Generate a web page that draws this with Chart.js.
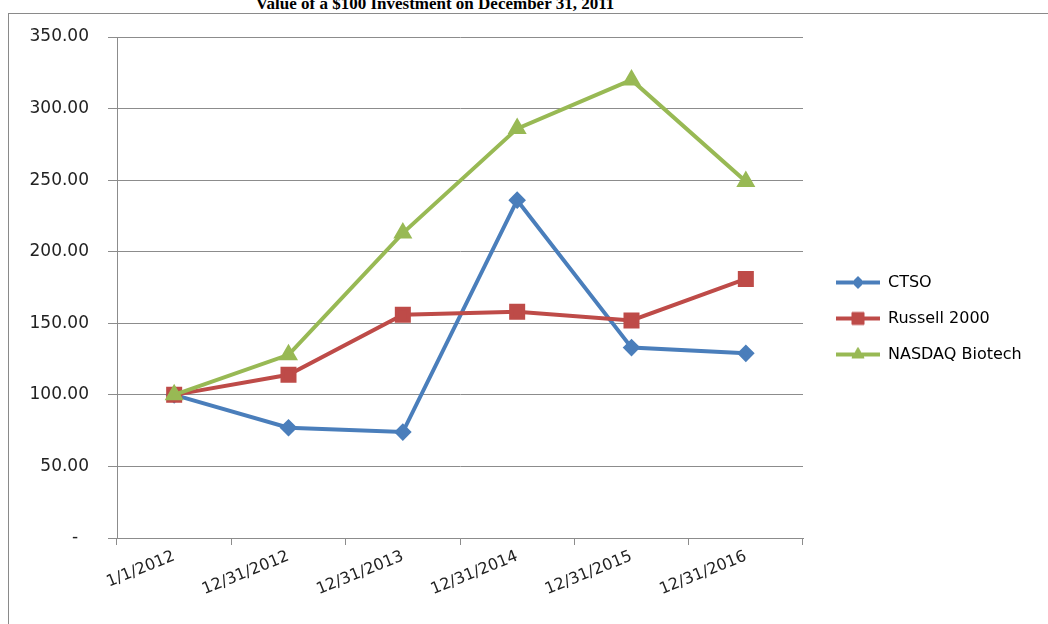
<!DOCTYPE html>
<html>
<head>
<meta charset="utf-8">
<script src="https://cdn.jsdelivr.net/npm/chart.js@4"></script>
<style>
  body { margin: 0; background: #fff; width: 1048px; height: 624px; overflow: hidden; position: relative; }
  #title { position: absolute; left: 0; width: 870px; top: -4px; text-align: center;
           font: bold 17px/16px "Liberation Serif", "Times New Roman", serif; color: #000; }
  #frame { position: absolute; left: 8px; top: 13px; width: 1100px; height: 700px; border: 1px solid #8a8a8a; }
  #wrap { position: absolute; left: 0; top: 0; width: 1039px; height: 610px; }
</style>
</head>
<body>
<div id="title">Value of a $100 Investment on December 31, 2011</div>
<div id="frame"><div id="wrap"><canvas id="chart1"></canvas></div></div>
<script>
const labels = ['1/1/2012', '12/31/2012', '12/31/2013', '12/31/2014', '12/31/2015', '12/31/2016'];
const ctso = [100, 77, 74, 236, 133, 129];
const russell = [100, 114, 156, 158, 152, 181];
const nasdaq = [100, 128, 213, 286, 320, 249];
const yTicks = [0, 50, 100, 150, 200, 250, 300, 350];

const font = 'DejaVu Sans';
const gridColor = '#8c8c8c';

// little line + marker picture for the legend
function swatch(color, style, radius) {
    const c = document.createElement('canvas');
    c.width = 44;
    c.height = 18;
    const ctx = c.getContext('2d');
    ctx.strokeStyle = color;
    ctx.fillStyle = color;
    ctx.lineWidth = 4;
    ctx.beginPath();
    ctx.moveTo(0, 9);
    ctx.lineTo(44, 9);
    ctx.stroke();
    ctx.lineWidth = 1;
    Chart.helpers.drawPoint(ctx, { pointStyle: style, radius: radius, borderWidth: 1, rotation: 0 }, 22, 9);
    return c;
}

function series(label, data, color, style, radius, order) {
    return {
        label: label,
        data: data,
        borderColor: color,
        backgroundColor: color,
        borderWidth: 4,
        tension: 0,
        fill: false,
        pointStyle: style,
        pointRadius: radius,
        pointHoverRadius: radius,
        pointBackgroundColor: color,
        pointBorderColor: color,
        order: order,
        swatch: swatch(color, style, radius)
    };
}

const legendShift = {
    id: 'legendShift',
    afterInit(chart) {
        const legend = chart.legend;
        const fit = legend.fit;
        legend.fit = function () {
            fit.call(this);
            this.width = 1039 - 794;
        };
    },
    afterLayout(chart) {
        const legend = chart.legend;
        legend.left += 13;
        legend.right += 13;
        legend.top -= 12;
        legend.bottom -= 12;
    }
};

new Chart(document.getElementById('chart1'), {
    type: 'line',
    data: {
        labels: labels,
        datasets: [
            series('CTSO', ctso, '#4a7ebb', 'rectRot', 6, 3),
            series('Russell 2000', russell, '#be4b48', 'rect', 8.5, 2),
            series('NASDAQ Biotech', nasdaq, '#98b954', 'triangle', 7, 1)
        ]
    },
    options: {
        responsive: true,
        maintainAspectRatio: false,
        animation: false,
        layout: { padding: { top: 23, left: 0, right: 0, bottom: 0 } },
        plugins: {
            title: { display: false },
            tooltip: { enabled: false },
            legend: {
                position: 'right',
                align: 'center',
                labels: {
                    usePointStyle: true,
                    pointStyleWidth: 44,
                    padding: 20,
                    color: '#222',
                    font: { family: font, size: 16 },
                    generateLabels: (chart) => chart.data.datasets.map((ds, i) => ({
                        text: ds.label,
                        pointStyle: ds.swatch,
                        fillStyle: ds.borderColor,
                        strokeStyle: ds.borderColor,
                        lineWidth: 0,
                        hidden: false,
                        datasetIndex: i
                    }))
                }
            }
        },
        scales: {
            x: {
                offset: true,
                grid: { offset: true, drawOnChartArea: false, drawTicks: true, tickLength: 7, color: gridColor },
                border: { color: gridColor },
                ticks: {
                    autoSkip: false,
                    minRotation: 22,
                    maxRotation: 22,
                    padding: 2,
                    color: '#222',
                    font: { family: font, size: 16 }
                },
                afterFit: (scale) => { scale.height = 86; }
            },
            y: {
                min: 0,
                max: 350,
                afterBuildTicks: (scale) => { scale.ticks = yTicks.map(v => ({ value: v })); },
                grid: { color: gridColor, tickLength: 9 },
                border: { color: gridColor },
                ticks: {
                    padding: 19,
                    color: '#222',
                    font: { family: font, size: 17 },
                    callback: (v) => v === 0 ? '-  ' : v.toFixed(2)
                },
                afterFit: (scale) => {
                    scale.width = 108;
                    scale.paddingTop = 0;
                    scale.paddingBottom = 0;
                }
            }
        }
    },
    plugins: [legendShift]
});
</script>
</body>
</html>
